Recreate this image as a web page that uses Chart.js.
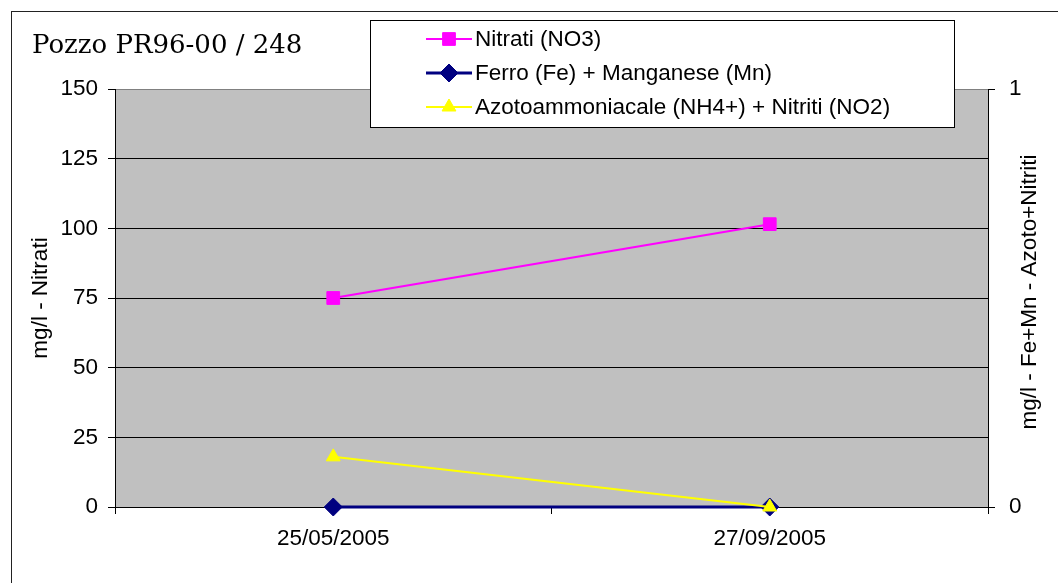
<!DOCTYPE html>
<html>
<head>
<meta charset="utf-8">
<title>Pozzo PR96-00 / 248</title>
<script src="https://cdn.jsdelivr.net/npm/chart.js@4.4.0/dist/chart.umd.min.js"></script>
<style>
  html, body { margin: 0; padding: 0; background: #fff; }
  #wrap { width: 1058px; height: 583px; }
</style>
</head>
<body>
<div id="wrap"><canvas id="chart" width="1058" height="583"></canvas></div>
<script>
// values
const dates = ['25/05/2005', '27/09/2005'];
const nitrati = [75, 101.5];
const ferroManganese = [0, 0];
const azotoNitriti = [0.12, 0];
const leftTicks = [0, 25, 50, 75, 100, 125, 150];
const rightTicks = [0, 1];

const chartTitle = 'Pozzo PR96-00 / 248';
const leftTitle = 'mg/l - Nitrati';
const rightTitle = 'mg/l - Fe+Mn - Azoto+Nitriti';
const seriesNames = ['Nitrati (NO3)', 'Ferro (Fe) + Manganese (Mn)', 'Azotoammoniacale (NH4+) + Nitriti (NO2)'];

const FONT = "'Liberation Sans', Arial, sans-serif";
const FSIZE = 22.5;

// background, frame, title, right axis title and legend box
const decor = {
    id: 'decor',
    beforeDraw(chart) {
        const ctx = chart.ctx;
        const a = chart.chartArea;
        ctx.save();
        ctx.fillStyle = '#fff';
        ctx.fillRect(0, 0, chart.width, chart.height);
        ctx.fillStyle = '#c0c0c0';
        ctx.fillRect(a.left, a.top, a.right - a.left, a.bottom - a.top);
        ctx.restore();
    },
    afterDraw(chart) {
        const ctx = chart.ctx;
        const a = chart.chartArea;
        ctx.save();
        // outer frame (only top and left edges fall inside the picture)
        ctx.strokeStyle = '#222';
        ctx.lineWidth = 1;
        ctx.strokeRect(11.5, 11.5, 1200, 800);

        // chart title
        ctx.fillStyle = '#000';
        ctx.font = "26px 'DejaVu Serif', serif";
        ctx.textBaseline = 'alphabetic';
        ctx.textAlign = 'left';
        ctx.fillText(chartTitle, 32, 53);

        // right axis title, reading bottom to top
        ctx.font = FSIZE + 'px ' + FONT;
        ctx.save();
        ctx.translate(1030, (a.top + a.bottom) / 2 - 6);
        ctx.rotate(-Math.PI / 2);
        ctx.textAlign = 'center';
        ctx.textBaseline = 'middle';
        ctx.fillText(rightTitle, 0, 0);
        ctx.restore();

        // legend
        ctx.fillStyle = '#fff';
        ctx.fillRect(370, 20, 585, 107);
        ctx.strokeStyle = '#000';
        ctx.strokeRect(370.5, 20.5, 584, 107);
        chart.data.datasets.forEach((ds, i) => {
            const y = 39 + i * 34;
            ctx.strokeStyle = ds.borderColor;
            ctx.lineWidth = ds.borderWidth;
            ctx.beginPath();
            ctx.moveTo(426, y);
            ctx.lineTo(472, y);
            ctx.stroke();
            ctx.fillStyle = ds.pointBackgroundColor;
            ctx.strokeStyle = ds.pointBorderColor;
            ctx.lineWidth = 1;
            Chart.helpers.drawPoint(ctx, {pointStyle: ds.pointStyle, radius: ds.pointRadius, rotation: 0, borderWidth: 1}, 449, y);
            ctx.fillStyle = '#000';
            ctx.font = FSIZE + 'px ' + FONT;
            ctx.textAlign = 'left';
            ctx.textBaseline = 'middle';
            ctx.fillText(ds.label, 475, y + 1);
        });
        ctx.restore();
    }
};

const ctx = document.getElementById('chart').getContext('2d');
const chart = new Chart(ctx, {
    type: 'line',
    data: {
        labels: dates,
        datasets: [
            {
                label: seriesNames[0],
                data: nitrati,
                yAxisID: 'y',
                borderColor: '#ff00ff',
                borderWidth: 2,
                pointStyle: 'rect',
                pointRadius: 9,
                pointBackgroundColor: '#ff00ff',
                pointBorderColor: '#ff00ff',
                pointBorderWidth: 1,
                tension: 0,
                clip: false,
                order: 2
            },
            {
                label: seriesNames[1],
                data: ferroManganese,
                yAxisID: 'y1',
                borderColor: '#000080',
                borderWidth: 3,
                pointStyle: 'rectRot',
                pointRadius: 9,
                pointBackgroundColor: '#000080',
                pointBorderColor: '#000080',
                pointBorderWidth: 1,
                tension: 0,
                clip: false,
                order: 1
            },
            {
                label: seriesNames[2],
                data: azotoNitriti,
                yAxisID: 'y1',
                borderColor: '#ffff00',
                borderWidth: 2,
                pointStyle: 'triangle',
                pointRadius: 8,
                pointBackgroundColor: '#ffff00',
                pointBorderColor: '#ffff00',
                pointBorderWidth: 1,
                tension: 0,
                clip: false,
                order: 0
            }
        ]
    },
    options: {
        responsive: false,
        animation: false,
        devicePixelRatio: 1,
        layout: { padding: { top: 89, left: 0, right: 0, bottom: 0 }, autoPadding: false },
        plugins: {
            legend: { display: false },
            tooltip: { enabled: false }
        },
        scales: {
            x: {
                offset: true,
                afterFit: s => { s.height = 76; },
                grid: { offset: true, drawOnChartArea: false, tickLength: 7, tickColor: '#000' },
                border: { color: '#000', width: 1 },
                ticks: { color: '#000', padding: 11, font: { family: FONT, size: FSIZE }, maxRotation: 0 }
            },
            y: {
                position: 'left',
                min: 0,
                max: 150,
                afterBuildTicks: s => { s.ticks = leftTicks.map(v => ({ value: v })); },
                afterFit: s => { s.width = 115; },
                grid: {
                    color: c => (c.tick && c.tick.value === 150) ? '#808080' : '#000',
                    tickColor: '#000',
                    tickLength: 7,
                    lineWidth: 1
                },
                border: { color: '#000', width: 1 },
                ticks: { color: '#000', padding: 10, font: { family: FONT, size: FSIZE } },
                title: { display: true, text: leftTitle, color: '#000', font: { family: FONT, size: FSIZE }, padding: { top: 27, bottom: 0 } }
            },
            y1: {
                position: 'right',
                min: 0,
                max: 1,
                afterBuildTicks: s => { s.ticks = rightTicks.map(v => ({ value: v })); },
                afterFit: s => { s.width = 70; },
                grid: { drawOnChartArea: false, tickColor: '#000', tickLength: 7 },
                border: { color: '#000', width: 1 },
                ticks: { color: '#000', padding: 14, font: { family: FONT, size: FSIZE } }
            }
        }
    },
    plugins: [decor]
});
</script>
</body>
</html>
